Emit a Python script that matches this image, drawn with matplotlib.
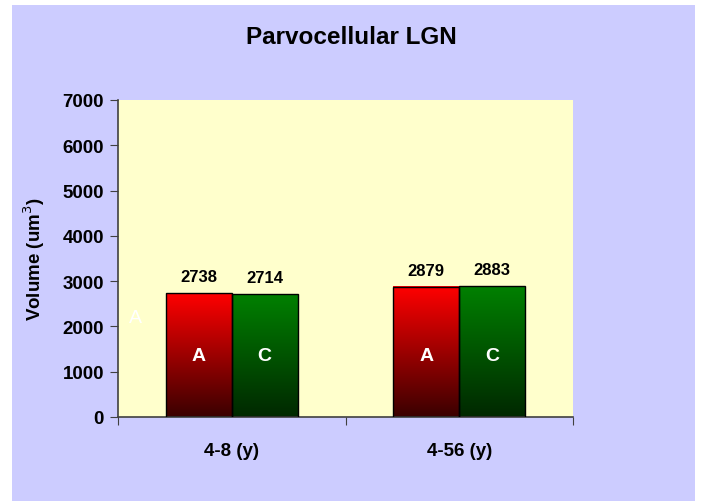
import numpy as np
import matplotlib.pyplot as plt
from matplotlib.patches import Rectangle
from matplotlib.colors import LinearSegmentedColormap

plt.rcParams['font.family'] = ['Liberation Sans', 'DejaVu Sans']

categories = ['4-8 (y)', '4-56 (y)']
series_names = ['A', 'C']
values_A = [2738, 2879]
values_C = [2714, 2883]
yticks = [0, 1000, 2000, 3000, 4000, 5000, 6000, 7000]

fig = plt.figure(figsize=(7.03, 5.02), dpi=100)
fig.patch.set_facecolor('white')
fig.patches.append(Rectangle((12/703, 0), (695-12)/703, (502-6)/502,
                             transform=fig.transFigure, facecolor='#CCCCFF',
                             edgecolor='none', zorder=-10))

ax = fig.add_axes([118/703, 1-418/502, (573-118)/703, (418-101)/502])
ax.set_facecolor('#FFFFCC')

red_cm = LinearSegmentedColormap.from_list('r', ['#3a0000', '#FF0000'])
green_cm = LinearSegmentedColormap.from_list('g', ['#002800', '#008000'])
grad = np.linspace(0, 1, 256).reshape(-1, 1)

w = 0.29
x = np.arange(len(categories))
for vals, off, cm, name in [(values_A, -w/2, red_cm, 'A'), (values_C, w/2, green_cm, 'C')]:
    for xi, v in zip(x, vals):
        left = xi + off - w/2
        ax.imshow(grad, cmap=cm, origin='lower', aspect='auto',
                  extent=(left, left + w, 0, v), zorder=2)
        ax.add_patch(Rectangle((left, 0), w, v, facecolor='none',
                               edgecolor='black', lw=1.0, zorder=3))
        ax.text(xi + off, v + 200, str(v), ha='center', va='bottom',
                fontsize=12, fontweight='bold', zorder=4)
        ax.text(xi + off, 1350, name, ha='center', va='center', color='white',
                fontsize=14, fontweight='bold', zorder=4)

# stray faint label at left edge
ax.text(-0.425, 2200, 'A', ha='center', va='center', color='white',
        fontsize=14, zorder=1)

ax.set_xlim(-0.5, 1.5)
ax.set_ylim(0, 7000)

ax.set_yticks(yticks)
ax.set_yticklabels([str(t) for t in yticks], fontsize=13.5, fontweight='bold')
ax.set_xticks([-0.5, 0.5, 1.5])
ax.set_xticklabels([])
ax.set_xticks(x, minor=True)
ax.set_xticklabels(categories, minor=True, fontsize=13.5, fontweight='bold')
ax.tick_params(axis='x', which='minor', length=0, pad=18)
ax.tick_params(axis='x', which='major', length=6, color='#404040', direction='out')
ax.tick_params(axis='y', length=6, color='#404040', direction='out', pad=4)

for s in ['top', 'right']:
    ax.spines[s].set_visible(False)
for s in ['left', 'bottom']:
    ax.spines[s].set_color('#404040')
    ax.spines[s].set_linewidth(1.2)

ax.set_ylabel('Volume (um$^3$)', fontsize=13.5, fontweight='bold')
ax.yaxis.set_label_coords(-0.155, 0.5)
fig.text(351/703, 1-37/502, 'Parvocellular LGN', ha='center',
         va='center', fontsize=17.5, fontweight='bold')

fig.savefig('out.png', dpi=100)
